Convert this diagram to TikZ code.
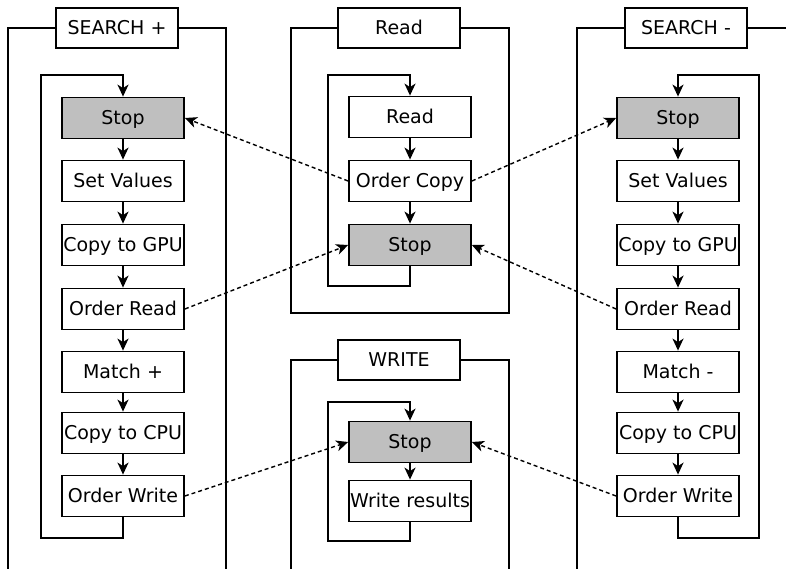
\documentclass[tikz,border=0pt]{standalone}
\usepackage{fontspec}
\setmainfont{DejaVu Sans}
\usetikzlibrary{arrows.meta}

\begin{document}
\begin{tikzpicture}[x=1pt, y=-1pt, line width=1.8pt,
        >={Stealth[length=12pt,width=11pt,inset=3.5pt]},
        every node/.style={font=\fontsize{19}{23}\selectfont, text height=13.9pt, text depth=0pt},
        box/.style={draw, fill=white, minimum width=122pt, minimum height=41pt, inner sep=1pt},
        stopbox/.style={box, fill=black!25},
        title/.style={draw, fill=white, minimum width=122pt, minimum height=40pt, inner sep=1pt},
        signal/.style={->, line width=1.4pt, dash pattern=on 4pt off 3pt}]
        \clip (0,0) rectangle (786,568);

        % Frames
        \draw (8,28) rectangle (226,590);
        \draw (291,28) rectangle (509,313);
        \draw (291,360) rectangle (509,590);
        \draw (577,28) rectangle (820,590);

        % Titles
        \node[title] (title_plus) at (117,28) {SEARCH +};
        \node[title] (title_read) at (399,28) {Read};
        \node[title] (title_minus) at (686,28) {SEARCH -};
        \node[title] (title_write) at (399,360) {WRITE};

        % SEARCH +
        \node[stopbox] (stop_plus) at (123,118) {Stop};
        \node[box] (set_plus) at (123,181) {Set Values};
        \node[box] (gpu_plus) at (123,245) {Copy to GPU};
        \node[box] (oread_plus) at (123,309) {Order Read};
        \node[box] (match_plus) at (123,372) {Match +};
        \node[box] (cpu_plus) at (123,433) {Copy to CPU};
        \node[box] (owrite_plus) at (123,496) {Order Write};

        % Read
        \node[box] (read_read) at (410,117) {Read};
        \node[box] (copy_read) at (410,181) {Order Copy};
        \node[stopbox] (stop_read) at (410,245) {Stop};

        % SEARCH -
        \node[stopbox] (stop_minus) at (678,118) {Stop};
        \node[box] (set_minus) at (678,181) {Set Values};
        \node[box] (gpu_minus) at (678,245) {Copy to GPU};
        \node[box] (oread_minus) at (678,309) {Order Read};
        \node[box] (match_minus) at (678,372) {Match -};
        \node[box] (cpu_minus) at (678,433) {Copy to CPU};
        \node[box] (owrite_minus) at (678,496) {Order Write};

        % WRITE
        \node[stopbox] (stop_write) at (410,442) {Stop};
        \node[box] (results_write) at (410,501) {Write results};

        % Arrows
        \draw[->] (stop_plus) -- (set_plus);
        \draw[->] (set_plus) -- (gpu_plus);
        \draw[->] (gpu_plus) -- (oread_plus);
        \draw[->] (oread_plus) -- (match_plus);
        \draw[->] (match_plus) -- (cpu_plus);
        \draw[->] (cpu_plus) -- (owrite_plus);
        \draw[->] (owrite_plus.south) -- (123,538) -| (41,75) -| (stop_plus.north);

        \draw[->] (read_read) -- (copy_read);
        \draw[->] (copy_read) -- (stop_read);
        \draw[->] (stop_read.south) -- (410,286) -| (328,75) -| (read_read.north);

        \draw[->] (stop_minus) -- (set_minus);
        \draw[->] (set_minus) -- (gpu_minus);
        \draw[->] (gpu_minus) -- (oread_minus);
        \draw[->] (oread_minus) -- (match_minus);
        \draw[->] (match_minus) -- (cpu_minus);
        \draw[->] (cpu_minus) -- (owrite_minus);
        \draw[->] (owrite_minus.south) -- (678,538) -| (759,75) -| (stop_minus.north);

        \draw[->] (stop_write) -- (results_write);
        \draw[->] (results_write.south) -- (410,541) -| (328,402) -| (stop_write.north);

        % Signals
        \draw[signal] (copy_read.west) -- (stop_plus.east);
        \draw[signal] (copy_read.east) -- (stop_minus.west);
        \draw[signal] (oread_plus.east) -- (stop_read.west);
        \draw[signal] (oread_minus.west) -- (stop_read.east);
        \draw[signal] (owrite_plus.east) -- (stop_write.west);
        \draw[signal] (owrite_minus.west) -- (stop_write.east);
    \end{tikzpicture}
\end{document}
